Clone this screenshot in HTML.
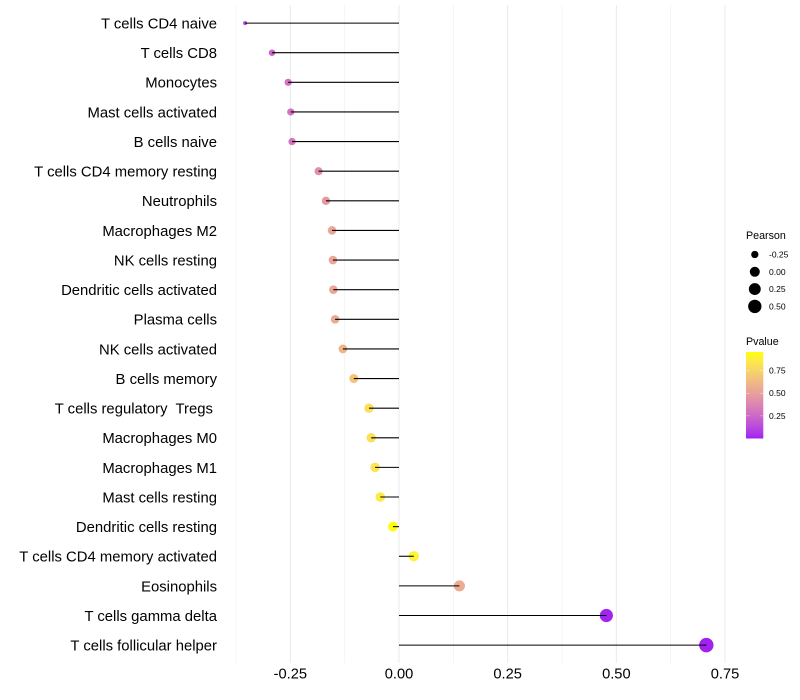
<!DOCTYPE html>
<html lang="en">
<head>
<meta charset="utf-8">
<title>Lollipop correlation chart</title>
<style>
html,body{margin:0;padding:0;background:#fff;}
svg{display:block;font-family:"Liberation Sans",Arial,sans-serif;}
</style>
</head>
<body>
<svg id="chart" width="800" height="700" viewBox="0 0 800 700" xmlns="http://www.w3.org/2000/svg">
<defs><linearGradient id="pvalue-gradient" x1="0" y1="1" x2="0" y2="0"></linearGradient></defs>
<g id="grid"></g>
<g id="points"></g>
<g id="segments"></g>
<g id="y-axis"></g>
<g id="x-axis"></g>
<g id="size-legend">
<text x="746" y="239" font-size="10.7" fill="#000">Pearson</text>
</g>
<g id="color-legend">
<text x="746" y="345" font-size="10.7" fill="#000">Pvalue</text>
<rect x="746" y="352" width="17.3" height="86.5" fill="url(#pvalue-gradient)"/>
</g>
</svg>
<script>
const categories = ["T cells CD4 naive","T cells CD8","Monocytes","Mast cells activated","B cells naive","T cells CD4 memory resting","Neutrophils","Macrophages M2","NK cells resting","Dendritic cells activated","Plasma cells","NK cells activated","B cells memory","T cells regulatory  Tregs ","Macrophages M0","Macrophages M1","Mast cells resting","Dendritic cells resting","T cells CD4 memory activated","Eosinophils","T cells gamma delta","T cells follicular helper"];
const pearson = [-0.354,-0.292,-0.255,-0.249,-0.246,-0.185,-0.168,-0.154,-0.152,-0.151,-0.147,-0.129,-0.104,-0.069,-0.064,-0.055,-0.043,-0.014,0.034,0.139,0.477,0.707];
const pvalue = [0.11,0.23,0.29,0.30,0.30,0.43,0.47,0.53,0.53,0.54,0.55,0.60,0.68,0.80,0.80,0.82,0.86,0.95,0.90,0.56,0.01,0.002];
const xTicks = [-0.25,0,0.25,0.5,0.75];
const xTickLabels = ["-0.25","0.00","0.25","0.50","0.75"];
const xMinorGrid = [-0.375,-0.125,0.125,0.375,0.625];
const sizeLegendValues = [-0.25,0,0.25,0.5];
const sizeLegendLabels = ["-0.25","0.00","0.25","0.50"];
const colorLegendValues = [0.25,0.5,0.75];
const colorLegendLabels = ["0.25","0.50","0.75"];

const NS = "http://www.w3.org/2000/svg";
const panelTop = 5, panelBottom = 663;
const xZero = 399, xPerUnit = 434.7;
const yFirst = 23.1, yStep = 29.62;
const sizeMin = -0.354, sizeMax = 0.707, rMin = 2, rMax = 7.2;
const colorMin = 0, colorMax = 0.955, barTop = 352, barBottom = 438.5;

function xScale(v){ return xZero + v * xPerUnit; }
function yScale(i){ return yFirst + i * yStep; }
function rScale(v){
  const t = Math.max(0, Math.min(1, (v - sizeMin) / (sizeMax - sizeMin)));
  return rMin + (rMax - rMin) * Math.sqrt(t);
}
function barScale(p){ return barBottom - (p - colorMin) / (colorMax - colorMin) * (barBottom - barTop); }

function srgbToLab(r,g,b){
  const f = c => { c/=255; return c<=0.04045 ? c/12.92 : Math.pow((c+0.055)/1.055,2.4); };
  const R=f(r),G=f(g),B=f(b);
  const X=(0.4124*R+0.3576*G+0.1805*B)/0.95047, Y=0.2126*R+0.7152*G+0.0722*B, Z=(0.0193*R+0.1192*G+0.9505*B)/1.08883;
  const h = t => t>0.008856 ? Math.cbrt(t) : 7.787*t+16/116;
  return [116*h(Y)-16, 500*(h(X)-h(Y)), 200*(h(Y)-h(Z))];
}
function labToCss(L,a,b){
  const fy=(L+16)/116, fx=fy+a/500, fz=fy-b/200;
  const inv = t => t*t*t>0.008856 ? t*t*t : (t-16/116)/7.787;
  const X=0.95047*inv(fx), Y=inv(fy), Z=1.08883*inv(fz);
  const lin=[3.2406*X-1.5372*Y-0.4986*Z, -0.9689*X+1.8758*Y+0.0415*Z, 0.0557*X-0.2040*Y+1.0570*Z];
  const out=lin.map(c=>{ c=Math.max(0,Math.min(1,c)); c=c<=0.0031308?12.92*c:1.055*Math.pow(c,1/2.4)-0.055; return Math.round(c*255); });
  return "rgb("+out.join(",")+")";
}
const labLow = srgbToLab(160,32,240), labHigh = srgbToLab(255,255,0);
function colorScale(p){
  const t = Math.max(0, Math.min(1, (p - colorMin) / (colorMax - colorMin)));
  return labToCss(labLow[0]+(labHigh[0]-labLow[0])*t, labLow[1]+(labHigh[1]-labLow[1])*t, labLow[2]+(labHigh[2]-labLow[2])*t);
}
function make(tag, parent, attrs){
  const el = document.createElementNS(NS, tag);
  for (const k in attrs) el.setAttribute(k, attrs[k]);
  parent.appendChild(el);
  return el;
}

const gridG = document.getElementById("grid");
xMinorGrid.forEach(function(v){
  const el = make("line", gridG, {x1:xScale(v), x2:xScale(v), y1:panelTop, y2:panelBottom, stroke:"#ededed", "stroke-width":0.55});
  
  
});
xTicks.forEach(function(v){
  const el = make("line", gridG, {x1:xScale(v), x2:xScale(v), y1:panelTop, y2:panelBottom, stroke:"#ebebeb", "stroke-width":1.07});
  
  
});

const pointsG = document.getElementById("points");
const segG = document.getElementById("segments");
const yG = document.getElementById("y-axis");
categories.forEach(function(name,i){
  const y = yScale(i);
  const pt = make("circle", pointsG, {cx:xScale(pearson[i]), cy:y, r:rScale(pearson[i]), fill:colorScale(pvalue[i])});
  
  
  const seg = make("line", segG, {x1:xScale(0), x2:xScale(pearson[i]), y1:y, y2:y, stroke:"#000", "stroke-width":1.07});
  
  
  const lab = make("text", yG, {x:217, y:y+5.4, "text-anchor":"end", "font-size":14.85, fill:"#000", "xml:space":"preserve", style:"white-space:pre"});
  
  
  lab.textContent = name;
});

const xG = document.getElementById("x-axis");
xTicks.forEach(function(v,i){
  const lab = make("text", xG, {x:xScale(v), y:678.5, "text-anchor":"middle", "font-size":14.67, fill:"#000"});
  
  
  lab.textContent = xTickLabels[i];
});

const sizeG = document.getElementById("size-legend");
sizeLegendValues.forEach(function(v,i){
  const y = 254.5 + i * 17.3;
  const c = make("circle", sizeG, {cx:754.8, cy:y, r:rScale(v), fill:"#000"});
  
  
  const t = make("text", sizeG, {x:769, y:y+3, "font-size":8.5, fill:"#000"});
  
  
  t.textContent = sizeLegendLabels[i];
});

const grad = document.getElementById("pvalue-gradient");
for (let s = 0; s <= 20; s++) {
  const frac = s / 20;
  make("stop", grad, {offset:frac, "stop-color":colorScale(colorMin + frac * (colorMax - colorMin))});
}
const colorG = document.getElementById("color-legend");
colorLegendValues.forEach(function(v,i){
  const y = barScale(v);
  const a = make("line", colorG, {x1:746, x2:749.5, y1:y, y2:y, stroke:"#fff", "stroke-width":0.55, "stroke-opacity":0.6});
  
  
  const b = make("line", colorG, {x1:759.8, x2:763.3, y1:y, y2:y, stroke:"#fff", "stroke-width":0.55, "stroke-opacity":0.6});
  
  
  const t = make("text", colorG, {x:769, y:y+3, "font-size":8.5, fill:"#000"});
  
  
  t.textContent = colorLegendLabels[i];
});
</script>
</body>
</html>
